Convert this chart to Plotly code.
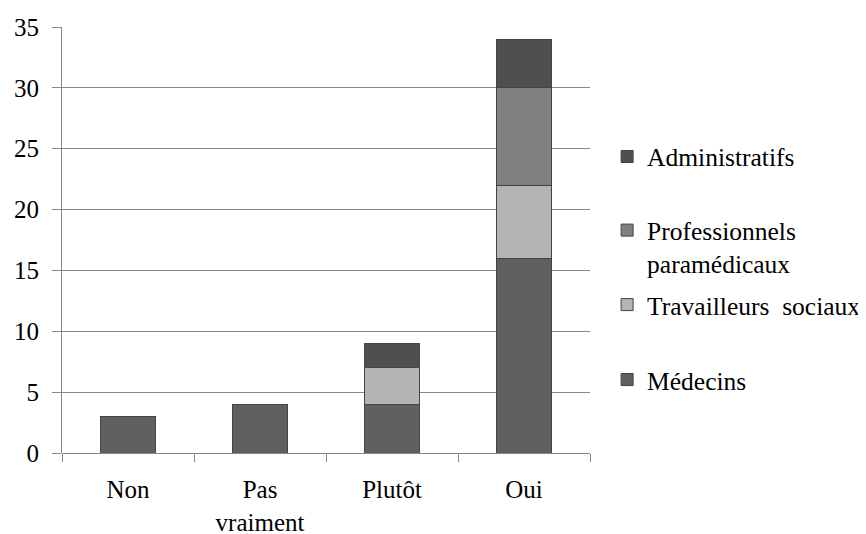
import plotly.graph_objects as go

categories = ["Non", "Pas<br>vraiment", "Plutôt", "Oui"]
medecins = [3, 4, 4, 16]
travailleurs = [0, 0, 3, 6]
paramedicaux = [0, 0, 0, 8]
administratifs = [0, 0, 2, 4]

series = [
    ("Médecins", medecins, "#606060", "legend4"),
    ("Travailleurs\u00a0 sociaux", travailleurs, "#b4b4b4", "legend3"),
    ("Professionnels<br>paramédicaux", paramedicaux, "#808080", "legend2"),
    ("Administratifs", administratifs, "#4f4f4f", "legend"),
]

FAM = "Liberation Serif"
font = dict(family=FAM, size=25, color="#000000")
lfont = dict(family=FAM, size=25.5, color="#000000")

W, H = 858, 526
L, T, B = 54, 19, 81
PLOT_W = 528

fig = go.Figure()
for name, vals, color, leg in series:
    fig.add_trace(go.Bar(
        x=categories, y=vals, name=name,
        marker=dict(color=color, line=dict(color="#444444", width=1)),
        width=0.41, legend=leg,
    ))

LX = 0.678

def legend_at(y, valign="middle"):
    return dict(x=LX, y=y, xanchor="left", yanchor="middle",
                font=lfont, bgcolor="rgba(0,0,0,0)", valign=valign)

fig.update_layout(
    barmode="stack",
    width=W, height=H,
    margin=dict(l=L, r=0, t=T, b=B, autoexpand=False),
    paper_bgcolor="white", plot_bgcolor="white",
    font=font,
    showlegend=True,
    legend=legend_at(0.695),
    legend2=legend_at(0.4835, "top"),
    legend3=legend_at(0.3474),
    legend4=legend_at(0.1714),
    xaxis=dict(
        type="category", domain=[0, PLOT_W / (W - L)],
        showgrid=False, showline=False,
        ticks="outside", tickson="boundaries", ticklen=8, tickcolor="#888888",
        tickfont=font, ticklabelstandoff=19, tickangle=0,
    ),
    yaxis=dict(
        range=[0, 35], dtick=5, showgrid=True, gridcolor="#888888", gridwidth=1,
        showline=True, linecolor="#888888", linewidth=1,
        ticks="outside", ticklen=9, tickcolor="#888888",
        zeroline=True, zerolinecolor="#888888", zerolinewidth=1,
        tickfont=font, ticklabelstandoff=8,
    ),
)

fig.write_html("out.html")
